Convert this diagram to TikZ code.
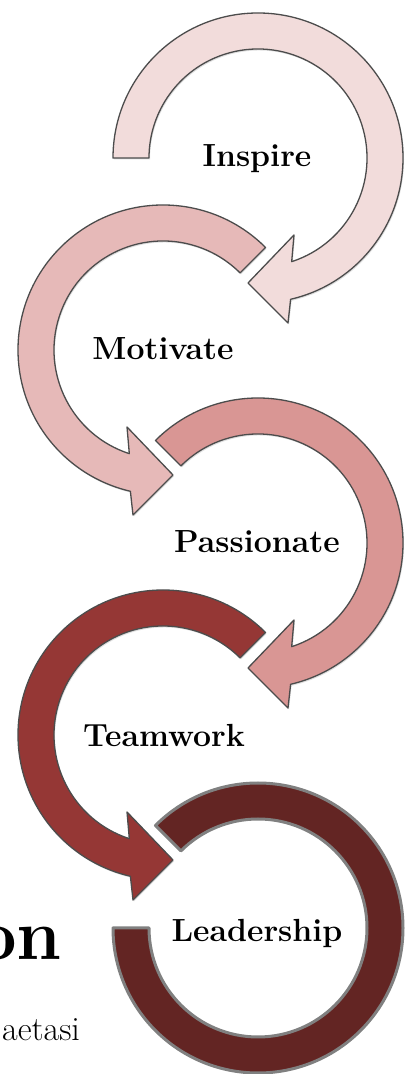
\documentclass[tikz,border=0pt]{standalone}
\usetikzlibrary{shadows}
\definecolor{cA}{HTML}{F2DCDB}
\definecolor{cB}{HTML}{E6B9B8}
\definecolor{cC}{HTML}{D99694}
\definecolor{cD}{HTML}{953735}
\definecolor{cE}{HTML}{632523}
\tikzset{
  arcshape/.style={draw=black!70, line width=1.3pt, line join=round,
    drop shadow={shadow xshift=1pt, shadow yshift=-1.5pt, opacity=0.25}},
  lastshape/.style={draw=black!50, line width=3pt, line join=round},
  lbl/.style={font=\fontsize{32}{36}\selectfont\bfseries, inner sep=0pt, anchor=base}
}
% right-side circle: arc clockwise from start angle, head pointing left at the bottom
\newcommand\RArc[3]{%
  \begin{scope}[shift={(#1)}]
  \path[arcshape, fill=#3] (#2:145) arc[start angle=#2, end angle=-77, radius=145]
    -- (30,-165) -- (-10,-125) -- (36,-77) -- (-72:109)
    arc[start angle=-72, end angle=#2, radius=109] -- cycle;
  \end{scope}}
% left-side circle: mirrored
\newcommand\LArc[3]{%
  \begin{scope}[shift={(#1)}]
  \path[arcshape, fill=#3] (#2:145) arc[start angle=#2, end angle=257, radius=145]
    -- (-30,-165) -- (10,-125) -- (-36,-77) -- (252:109)
    arc[start angle=252, end angle=#2, radius=109] -- cycle;
  \end{scope}}
\begin{document}
\begin{tikzpicture}[x=1pt,y=1pt]
\useasboundingbox (0,0) rectangle (410,1074);
\fill[white] (0,0) rectangle (410,1074);
\coordinate (c1) at (258,916);
\coordinate (c2) at (163,724);
\coordinate (c3) at (258,531);
\coordinate (c4) at (163,339);
\coordinate (c5) at (258,146);
\RArc{c1}{180}{cA}
\LArc{c2}{45}{cB}
\RArc{c3}{135}{cC}
\LArc{c4}{45}{cD}
\begin{scope}[shift={(c5)}]
  \path[lastshape, fill=cE] (135:145) arc[start angle=135, end angle=-180, radius=145]
    -- (-180:109) arc[start angle=-180, end angle=135, radius=109] -- cycle;
\end{scope}
\node[lbl] (inspire) at (257,907) {Inspire};
\node[lbl] (motivate) at (163,714) {Motivate};
\node[lbl] (passionate) at (257,521) {Passionate};
\node[lbl] (teamwork) at (164,327) {Teamwork};
\node[lbl] (leadership) at (257,132) {Leadership};
\node[font=\fontsize{72}{80}\selectfont\bfseries, inner sep=0pt, anchor=base east] (on) at (62,114) {on};
\node[font=\fontsize{34}{40}\selectfont, inner sep=0pt, anchor=base west] (aetasi) at (2,34) {aetasi};
\end{tikzpicture}
\end{document}
